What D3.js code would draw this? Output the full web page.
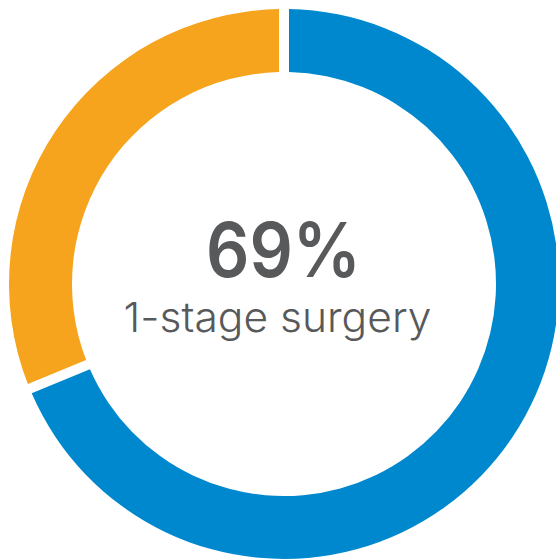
<!DOCTYPE html>
<html>
<head>
<meta charset="utf-8">
<script src="https://cdn.jsdelivr.net/npm/d3@7"></script>
<style>
  html, body { margin: 0; padding: 0; background: #fff; }
  svg { display: block; }
</style>
</head>
<body>
<svg id="chart" width="556" height="560"></svg>
<script>
const categories = ["1-stage surgery", "Other"];
const values = [69, 31];
const colors = ["#0088cf", "#f6a41e"];
const headline = "69%";
const subtitle = "1-stage surgery";

const svg = d3.select("#chart");
const cx = 284, cy = 284, outerR = 275, innerR = 212, gap = 10;

const pie = d3.pie().sort(null).value(d => d).startAngle(0).endAngle(2 * Math.PI).padAngle(gap / outerR);
const arc = d3.arc().innerRadius(innerR).outerRadius(outerR).padRadius(outerR);
const color = d3.scaleOrdinal().domain(categories).range(colors);

const g = svg.append("g").attr("transform", `translate(${cx},${cy})`);
g.selectAll("path")
  .data(pie(values))
  .join("path")
  .attr("d", arc)
  .attr("fill", (d, i) => color(categories[i]));

const font = "Inter, Lato, sans-serif";
const t1 = svg.append("text")
  .attr("x", 283.5).attr("y", 277)
  .attr("text-anchor", "middle")
  .attr("font-family", font)
  .attr("font-weight", 600)
  .attr("font-size", 75)
  .attr("fill", "#58595b")
  .text(headline);
const t2 = svg.append("text")
  .attr("x", 277.5).attr("y", 332)
  .attr("text-anchor", "middle")
  .attr("font-family", font)
  .attr("font-weight", 300)
  .attr("font-size", 41)
  .attr("fill", "#58595b")
  .text(subtitle);
// match reference widths
[[t1, 155], [t2, 308]].forEach(([t, w]) => {
  t.attr("textLength", w).attr("lengthAdjust", "spacingAndGlyphs");
});
</script>
</body>
</html>
